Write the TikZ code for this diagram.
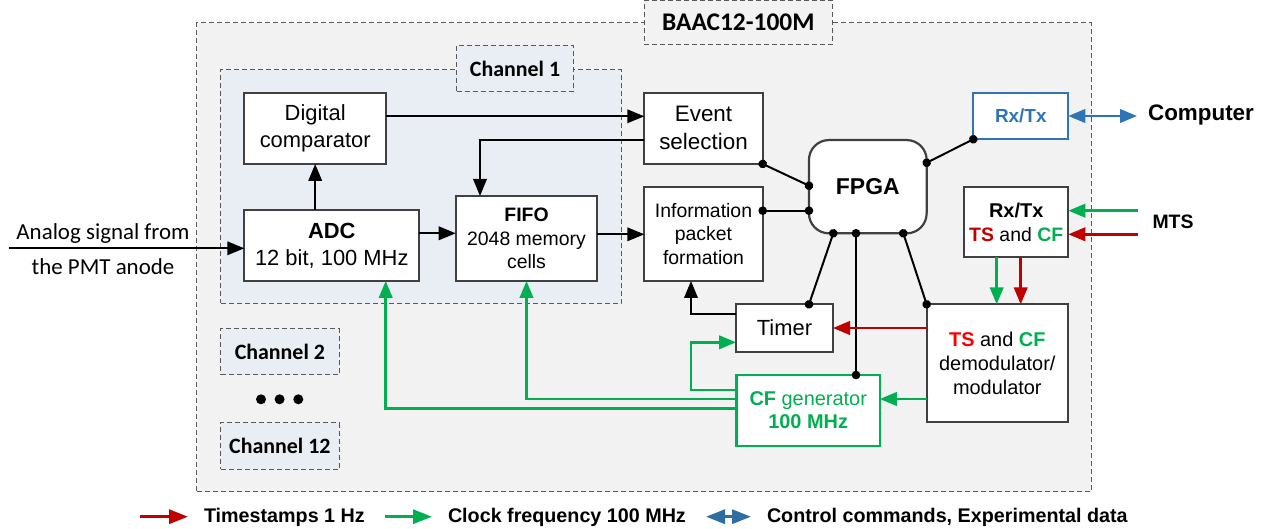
\documentclass[tikz,border=0pt]{standalone}
\usepackage{fontspec}
\setmainfont{Liberation Sans}
\newfontfamily\calfont{Carlito}
\usetikzlibrary{arrows.meta,calc}

\definecolor{outerbg}{HTML}{F2F2F2}
\definecolor{chanbg}{HTML}{E9EDF4}
\definecolor{dashgray}{HTML}{595959}
\definecolor{boxgray}{HTML}{404040}
\definecolor{clkgreen}{HTML}{00B050}
\definecolor{tsred}{HTML}{C00000}
\definecolor{tsbright}{HTML}{FF0000}
\definecolor{linkblue}{HTML}{2E75B6}
\definecolor{legblue}{HTML}{2E6DA4}

\newcommand\fsz[2]{\fontsize{#1}{#2}\selectfont}

\begin{document}
\begin{tikzpicture}[x=1bp,y=-1bp,
  every node/.style={inner sep=0pt, outer sep=0pt},
  block/.style={draw=boxgray, line width=2.2bp, fill=white, align=center},
  region/.style={draw=dashgray, line width=1bp, dash pattern=on 5bp off 3bp},
  tag/.style={region, align=center, font=\calfont\bfseries\fsz{22}{26}},
  wire/.style={line width=2bp, black},
  tip/.style={-{Triangle[length=17bp,width=13.5bp]}},
  arr/.style={wire, tip},
  link/.style={wire, {Circle[length=8.5bp]}-{Circle[length=8.5bp]}, shorten <=-4.25bp, shorten >=-4.25bp},
  clk/.style={line width=2.5bp, clkgreen, tip},
  ts/.style={line width=2.5bp, tsred, tip},
  data/.style={line width=2.5bp, linkblue, {Triangle[length=17bp,width=13.5bp]}-{Triangle[length=17bp,width=13.5bp]}},
  legend/.style={anchor=base west, font=\bfseries\fsz{19.8}{22}},
  legarr/.style={line width=3.2bp, -{Triangle[length=19bp,width=14bp]}}
]
\useasboundingbox (0,0) rectangle (1273,529);

% ---- enclosures ----
\node[region, fill=outerbg, minimum width=894bp, minimum height=469bp] (dev) at (644,257.2) {};
\node[region, fill=outerbg, minimum width=188bp, minimum height=44.5bp,
      font=\calfont\bfseries\fsz{25.5}{28}] (devname) at (738.3,22.75) {BAAC12-100M};
\node[region, fill=chanbg, minimum width=400.3bp, minimum height=233.6bp] (ch1) at (420.85,186.5) {};
\node[tag, fill=chanbg, minimum width=116.6bp, minimum height=46bp] (ch1name) at (515,68.7) {Channel 1};
\node[tag, fill=chanbg, minimum width=118.3bp, minimum height=46bp] (ch2) at (279.85,352) {Channel 2};
\node[tag, fill=chanbg, minimum width=118.3bp, minimum height=46.6bp] (ch12) at (279.85,446) {Channel 12};
\fill (261,399.3) circle (5bp) (279.6,399.3) circle (5bp) (298.3,399.3) circle (5bp);

% ---- blocks ----
\node[block, minimum width=141.7bp, minimum height=71.3bp, font=\fsz{22}{28}] (cmp) at (315.2,128.3) {Digital\\comparator};
\node[block, minimum width=175bp, minimum height=71bp, font=\fsz{22}{27}] (adc) at (331.8,245.5) {\textbf{ADC}\\12 bit, 100 MHz};
\node[block, minimum width=141.6bp, minimum height=85bp, font=\fsz{19.5}{23.5}] (fifo) at (526.5,238.5) {\textbf{FIFO}\\2048 memory\\cells};
\node[block, minimum width=118.4bp, minimum height=71.3bp, font=\fsz{22.5}{28}] (evt) at (703.5,128.3) {Event\\selection};
\node[block, minimum width=118.4bp, minimum height=94.3bp, font=\fsz{19.5}{23.7}] (info) at (703.5,233.8) {Information\\packet\\formation};
\node[block, rounded corners=20bp, minimum width=117.7bp, minimum height=93.3bp, font=\bfseries\fsz{23}{26}] (fpga) at (867.8,186.7) {FPGA};
\node[block, draw=linkblue, text=linkblue, minimum width=95bp, minimum height=46.6bp, font=\bfseries\fsz{19}{22}] (rxc) at (1020.8,116) {Rx/Tx};
\node[block, minimum width=104.3bp, minimum height=70.6bp, font=\fsz{19.5}{24}] (rxm) at (1016.2,222)
  {{\bfseries\fsz{20}{24}Rx/Tx}\\{\color{tsred}\bfseries TS} and {\color{clkgreen}\bfseries CF}};
\node[block, minimum width=97bp, minimum height=47.4bp, font=\fsz{22}{26}] (tmr) at (784.5,328) {Timer};
\node[block, minimum width=141.3bp, minimum height=118bp, font=\fsz{20}{24}] (dem) at (997.3,363.3)
  {{\color{tsbright}\bfseries TS} and {\color{clkgreen}\bfseries CF}\\demodulator/\\modulator};
\node[block, draw=clkgreen, text=clkgreen, minimum width=143.3bp, minimum height=71bp, font=\fsz{20}{23}] (cfg) at (808.2,410.5)
  {\textbf{CF} generator\\\textbf{100 MHz}};

% ---- outside labels ----
\node[font=\calfont\fsz{23}{35}, align=center] (sigtxt) at (103,249.5) {Analog signal from\\the PMT anode};
\node[font=\bfseries\fsz{22.5}{26}] (pc) at (1201,115) {Computer};
\node[font=\bfseries\fsz{19.5}{22}] (mts) at (1173,222) {MTS};

% ---- reference levels ----
\coordinate (sig) at (9,248.3);
\coordinate (yAF) at (0,233.3);
\coordinate (yCE) at (0,116.3);
\coordinate (yEF) at (0,140.3);
\coordinate (xEF) at (480,0);
\coordinate (yFI) at (0,234.3);
\coordinate (pEvt) at (809,185.7);
\coordinate (yInf) at (0,210.7);
\coordinate (pRgt) at (926.7,162.7);
\coordinate (pB1) at (833.3,233.3);
\coordinate (pB2) at (856,233.3);
\coordinate (pB3) at (903.3,233.3);
\coordinate (pTmr) at (809,304.3);
\coordinate (yTI) at (0,314.3);
\coordinate (xTI) at (691,0);
\coordinate (xG) at (996.7,0);
\coordinate (xR) at (1020.7,0);
\coordinate (mtsG) at (1138,210.7);
\coordinate (mtsR) at (1138,234.3);
\coordinate (pcEnd) at (1137,116);
\coordinate (yDC) at (0,399);
\coordinate (yCA) at (0,408.3);
\coordinate (xCA) at (385.7,0);
\coordinate (yCT) at (0,390);
\coordinate (xCT) at (691,0);
\coordinate (yTT) at (0,342.3);

% ---- data path ----
\draw[arr] (sig) -- (sig -| adc.west);
\draw[arr] (cmp.south |- adc.north) -- (cmp.south);
\draw[arr] (adc.east |- yAF) -- (fifo.west |- yAF);
\draw[arr] (cmp.east |- yCE) -- (evt.west |- yCE);
\draw[arr] (evt.west |- yEF) -| (xEF |- fifo.north);
\draw[arr] (fifo.east |- yFI) -- (info.west |- yFI);
\draw[arr] (tmr.west |- yTI) -| (xTI |- info.south);

% ---- FPGA buses ----
\draw[link] (evt.south east) -- (pEvt);
\draw[link] (info.east |- yInf) -- (fpga.west |- yInf);
\draw[link] (pRgt) -- (rxc.south west);
\draw[link] (pB1) -- (pTmr);
\draw[link] (pB2) -- (pB2 |- cfg.north);
\draw[link] (pB3) -- (dem.north west);

% ---- timestamps and clock ----
\draw[ts] (dem.west |- tmr.east) -- (tmr.east);
\draw[clk] (rxm.south -| xG) -- (dem.north -| xG);
\draw[ts] (rxm.south -| xR) -- (dem.north -| xR);
\draw[clk] (mtsG) -- (mtsG -| rxm.east);
\draw[ts] (mtsR) -- (mtsR -| rxm.east);
\draw[data] (pcEnd) -- (pcEnd -| rxc.east);
\draw[clk] (dem.west |- yDC) -- (cfg.east |- yDC);
\draw[clk] (cfg.west |- yCA) -| (xCA |- adc.south);
\draw[clk] (cfg.west |- yDC) -| (fifo.south);
\draw[clk] (cfg.west |- yCT) -| (xCT |- yTT) -- (tmr.west |- yTT);

% ---- legend ----
\coordinate (lr1) at (140,516.7);
\coordinate (lr2) at (188,516.7);
\coordinate (lg1) at (385,516.7);
\coordinate (lg2) at (432,516.7);
\coordinate (lb1) at (706,516.7);
\coordinate (lb2) at (751,516.7);
\draw[legarr, tsred] (lr1) -- (lr2);
\draw[legarr, clkgreen] (lg1) -- (lg2);
\draw[line width=3.2bp, legblue, {Triangle[length=19bp,width=14bp]}-{Triangle[length=19bp,width=14bp]}] (lb1) -- (lb2);
\node[legend] (legts) at (204,522.7) {Timestamps 1 Hz};
\node[legend] (legclk) at (448,522.7) {Clock frequency 100 MHz};
\node[legend] (legdata) at (767,522.7) {Control commands, Experimental data};
\end{tikzpicture}
\end{document}
